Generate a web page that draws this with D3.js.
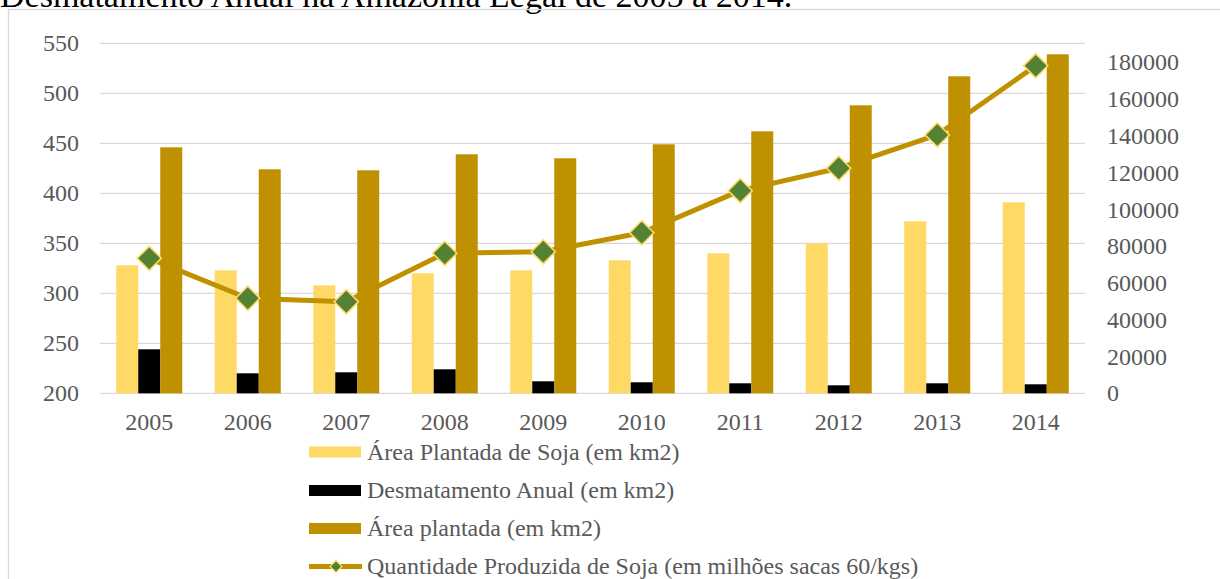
<!DOCTYPE html>
<html>
<head>
<meta charset="utf-8">
<script src="https://cdn.jsdelivr.net/npm/d3@7/dist/d3.min.js"></script>
<style>
  html, body { margin: 0; padding: 0; background: #ffffff; }
  svg { display: block; }
  text { font-family: "Liberation Serif", "Times New Roman", serif; }
</style>
</head>
<body>
<svg id="chart" width="1220" height="579"></svg>
<script>
// ---- data ----
const years = ["2005", "2006", "2007", "2008", "2009", "2010", "2011", "2012", "2013", "2014"];
const areaSoja = [328, 323, 308, 320, 323, 333, 340, 350, 372, 391];          // km2
const desmatamento = [244, 220, 221, 224, 212, 211, 210, 208, 210, 209];      // km2
const areaPlantada = [446, 424, 423, 439, 435, 449, 462, 488, 517, 539];      // km2
const producao = [73400, 51700, 49800, 76100, 77000, 87300, 110200, 122400, 140500, 178100];
const leftTicks = [200, 250, 300, 350, 400, 450, 500, 550];
const rightTicks = [0, 20000, 40000, 60000, 80000, 100000, 120000, 140000, 160000, 180000];
const seriesNames = [
  "Área Plantada de Soja (em km2)",
  "Desmatamento Anual (em km2)",
  "Área plantada (em km2)",
  "Quantidade Produzida de Soja (em milhões sacas 60/kgs)"
];
const titleText = "Desmatamento Anual na Amazônia Legal de 2005 a 2014.";

// ---- styling ----
const colors = ["#FFD966", "#000000", "#BF9000"];
const lineColor = "#BF9000";
const markerFill = "#548235";
const markerStroke = "#FFD966";
const gridColor = "#d9d9d9";
const textColor = "#595959";
const fontSize = 24;

const svg = d3.select("#chart");
const plot = { left: 100, right: 1085, top: 43.3, bottom: 393.3 };

// caption line above the chart frame
svg.append("text")
  .attr("x", 0).attr("y", 7)
  .attr("font-size", 34)
  .attr("fill", "#000")
  .text(titleText);

// chart frame
svg.append("rect")
  .attr("x", 8.5).attr("y", 9.5)
  .attr("width", 1240).attr("height", 600)
  .attr("fill", "none")
  .attr("stroke", gridColor)
  .attr("stroke-width", 1.3);

// ---- scales ----
const x = d3.scaleBand().domain(years).range([plot.left, plot.right])
  .paddingInner(0.33).paddingOuter(0.165);
const barKeys = [0, 1, 2];
const xs = d3.scaleBand().domain(barKeys).range([0, x.bandwidth()]);
const yL = d3.scaleLinear().domain([200, 550]).range([plot.bottom, plot.top]);
const yR = d3.scaleLinear().domain([0, 190000]).range([plot.bottom, plot.bottom - 9.5 * (plot.bottom - 62.3) / 9]);

// ---- gridlines ----
svg.append("g")
  .selectAll("line")
  .data(leftTicks)
  .join("line")
  .attr("x1", plot.left).attr("x2", plot.right)
  .attr("y1", d => yL(d)).attr("y2", d => yL(d))
  .attr("stroke", gridColor)
  .attr("stroke-width", 1.3);

// ---- axes ----
const axisLeft = d3.axisLeft(yL).tickValues(leftTicks).tickSize(0).tickPadding(21);
const gL = svg.append("g").attr("transform", `translate(${plot.left},0)`).call(axisLeft);
const axisRight = d3.axisRight(yR).tickValues(rightTicks).tickSize(0).tickPadding(22)
  .tickFormat(d3.format("d"));
const gR = svg.append("g").attr("transform", `translate(${plot.right},0)`).call(axisRight);
const axisBottom = d3.axisBottom(x).tickSize(0).tickPadding(20);
const gB = svg.append("g").attr("transform", `translate(0,${plot.bottom})`).call(axisBottom);

[gL, gR, gB].forEach(g => {
  g.select(".domain").remove();
  g.selectAll("text")
    .attr("fill", textColor)
    .attr("font-size", fontSize)
    .attr("font-family", "'Liberation Serif', 'Times New Roman', serif");
});

// ---- bars ----
const barSeries = [areaSoja, desmatamento, areaPlantada];
const barGroups = svg.append("g")
  .selectAll("g")
  .data(years)
  .join("g")
  .attr("transform", d => `translate(${x(d)},0)`);

barGroups.selectAll("rect")
  .data((yr, i) => barKeys.map(k => ({ k, v: barSeries[k][i] })))
  .join("rect")
  .attr("x", d => xs(d.k))
  .attr("width", xs.bandwidth())
  .attr("y", d => yL(d.v))
  .attr("height", d => yL(200) - yL(d.v))
  .attr("fill", d => colors[d.k]);

// ---- production line (secondary axis) ----
const linePts = years.map((yr, i) => [x(yr) + x.bandwidth() / 2, yR(producao[i])]);
svg.append("path")
  .attr("d", d3.line()(linePts))
  .attr("fill", "none")
  .attr("stroke", lineColor)
  .attr("stroke-width", 5)
  .attr("stroke-linejoin", "round");

const diamond = d3.symbol(d3.symbolSquare, 290);
svg.append("g")
  .selectAll("path")
  .data(linePts)
  .join("path")
  .attr("d", diamond())
  .attr("transform", d => `translate(${d[0]},${d[1]}) rotate(45)`)
  .attr("fill", markerFill)
  .attr("stroke", markerStroke)
  .attr("stroke-width", 1.6);

// ---- legend ----
const legendY = [452, 490.5, 528.5, 566.5];
const legend = svg.append("g");
const lg = legend.selectAll("g")
  .data(seriesNames)
  .join("g")
  .attr("transform", (d, i) => `translate(309,${legendY[i]})`);

lg.filter((d, i) => i < 3)
  .append("rect")
  .attr("x", 0).attr("y", -5.5)
  .attr("width", 52).attr("height", 11)
  .attr("fill", (d, i) => colors[i]);

const lastItem = lg.filter((d, i) => i === 3);
lastItem.append("line")
  .attr("x1", 0).attr("x2", 53)
  .attr("y1", 0).attr("y2", 0)
  .attr("stroke", lineColor)
  .attr("stroke-width", 5);
lastItem.append("path")
  .attr("d", d3.symbol(d3.symbolSquare, 70)())
  .attr("transform", "translate(27,0) rotate(45)")
  .attr("fill", markerFill)
  .attr("stroke", markerStroke)
  .attr("stroke-width", 1.2);

lg.append("text")
  .attr("x", 58)
  .attr("dy", "0.33em")
  .attr("font-size", fontSize)
  .attr("fill", textColor)
  .text(d => d);
</script>
</body>
</html>
